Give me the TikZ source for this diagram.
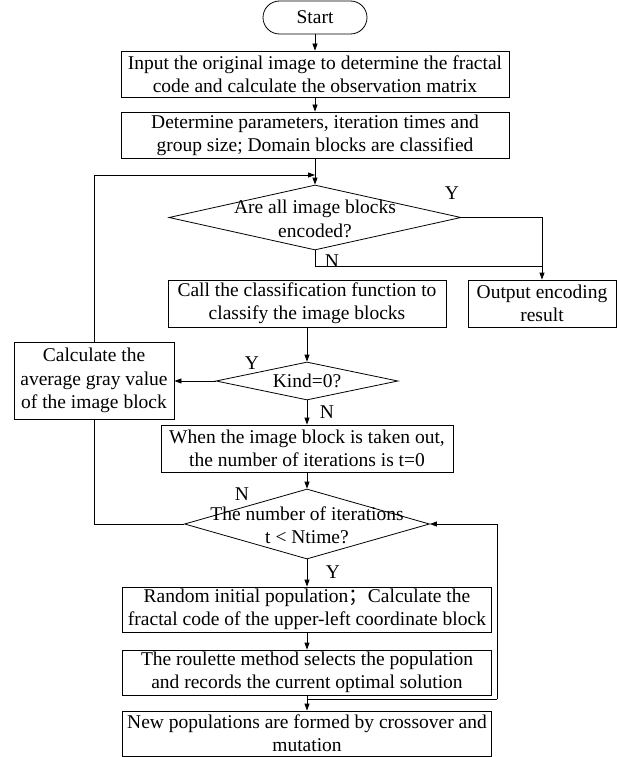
\documentclass[tikz,border=0pt]{standalone}
\usepackage{fontspec}
\setmainfont{Liberation Serif}
\newfontfamily\cjkfont{Noto Sans CJK SC}
\usetikzlibrary{shapes.geometric,shapes.misc,arrows.meta}
\tikzset{
  tf/.style={font=\fontsize{19.5}{23.3}\selectfont},
  procbox/.style={draw, line width=0.8pt, inner sep=2pt, align=center, tf},
  termbox/.style={draw, line width=0.8pt, rounded rectangle, inner sep=2pt, tf},
  decbox/.style={draw, line width=0.8pt, diamond, inner sep=0pt, aspect=1},
  dectext/.style={align=center, inner sep=0pt, tf},
  lab/.style={inner sep=0pt, tf},
  conn/.style={line width=0.8pt},
  arr/.style={line width=0.8pt, -{Triangle[length=7pt,width=5pt]}},
}
\begin{document}
\begin{tikzpicture}[x=1pt,y=-1pt]
\useasboundingbox (0,0) rectangle (618,757);
% nodes
\node[termbox, minimum width=108pt, minimum height=33pt] (start) at (315,17.5) {Start};
\node[procbox, minimum width=388pt, minimum height=46pt] (b1) at (315,74) {Input the original image to determine the fractal\\code and calculate the observation matrix};
\node[procbox, minimum width=388pt, minimum height=46pt] (b2) at (315,135) {Determine parameters, iteration times and\\group size; Domain blocks are classified};
\node[decbox, minimum width=292pt, minimum height=65pt] (d1) at (315,217.5) {};
\node[dectext] (d1t) at (315,219) {Are all image blocks\\encoded?};
\node[procbox, minimum width=148pt, minimum height=47pt] (out) at (542,303.5) {Output encoding\\result};
\node[procbox, minimum width=278pt, minimum height=47pt] (call) at (307,303.5) {Call the classification function to\\classify the image blocks};
\node[procbox, minimum width=160pt, minimum height=77pt] (calc) at (94,380.5) {Calculate the\\average gray value\\of the image block};
\node[decbox, minimum width=182pt, minimum height=38pt] (kind) at (307,381) {};
\node[dectext] (kindt) at (307,381) {Kind=0?};
\node[procbox, minimum width=292pt, minimum height=47pt] (when) at (307,448.5) {When the image block is taken out,\\the number of iterations is t=0};
\node[decbox, minimum width=245pt, minimum height=70pt] (d3) at (307,524) {};
\node[dectext] (d3t) at (307,525) {The number of iterations\\t < Ntime?};
\node[procbox, minimum width=369pt, minimum height=45pt] (rand) at (307,609.5) {Random initial population{\cjkfont ；}Calculate the\\fractal code of the upper-left coordinate block};
\node[procbox, minimum width=369pt, minimum height=45pt] (roul) at (307,672.5) {The roulette method selects the population\\and records the current optimal solution};
\node[procbox, minimum width=369pt, minimum height=45pt] (new) at (307,733.5) {New populations are formed by crossover and\\mutation};
% labels
\node[lab] (y1) at (452,193) {Y};
\node[lab] (n1) at (332,261) {N};
\node[lab] (y2) at (252,363) {Y};
\node[lab] (n2) at (327,412) {N};
\node[lab] (n3) at (242,494) {N};
\node[lab] (y3) at (333,572) {Y};
% coordinates
\coordinate (lp) at (315,175);
\coordinate (nj) at (542,266);
\coordinate (fb) at (307,699);
\coordinate (fbc) at (497,699);
% connectors
\draw[arr] (start.south) -- (b1.north);
\draw[arr] (b1.south) -- (b2.north);
\draw[arr] (b2.south) -- (d1.north);
\draw[arr] (calc.north) |- (lp);
\draw[arr] (d1.east) -| (out.north);
\draw[conn] (d1.south) |- (nj);
\draw[arr] (call.south) -- (kind.north);
\draw[arr] (kind.west) -- (kind.west -| calc.east);
\draw[arr] (kind.south) -- (when.north);
\draw[arr] (when.south) -- (d3.north);
\draw[conn] (d3.west) -| (calc.south);
\draw[arr] (d3.south) -- (rand.north);
\draw[arr] (rand.south) -- (roul.north);
\draw[arr] (roul.south) -- (new.north);
\draw[conn] (fb) -- (fbc);
\draw[arr] (fbc) |- (d3.east);
\end{tikzpicture}
\end{document}
